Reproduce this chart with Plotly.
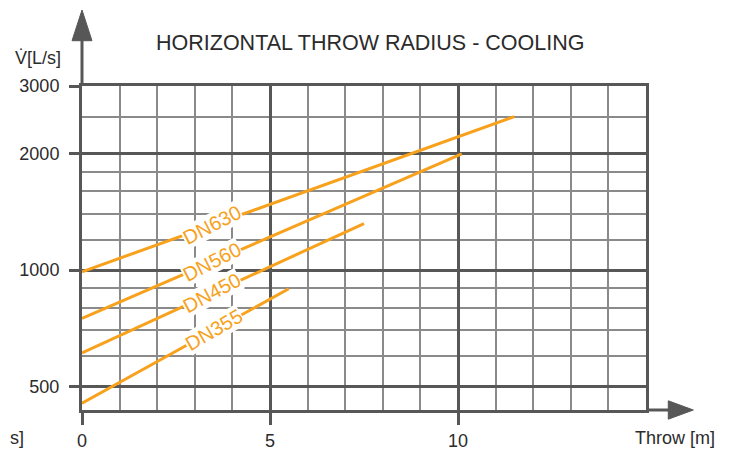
import math
import plotly.graph_objects as go

# ---- data ----
series_names = ["DN630", "DN560", "DN450", "DN355"]
throw_start = [0, 0, 0, 0]
throw_end = [11.5, 10.1, 7.5, 5.5]
flow_start = [990, 750, 610, 452]
flow_end = [2500, 2000, 1320, 895]
label_throw = [3.45, 3.45, 3.45, 3.5]
label_angles = [-27, -27, -28, -30]

x_major = [0, 5, 10]
x_minor = list(range(1, 15))
y_major = [500, 1000, 2000, 3000]
y_major_text = ["500", "1000", "2000", "3000"]
y_minor = [600, 700, 800, 900, 1200, 1400, 1600, 1800, 2500]

ORANGE = "#F7A11C"
DARK = "#575757"
MINOR = "#8a8a8a"
TEXT = "#2b2b2b"
FONT = "Liberation Sans, Arial, sans-serif"

fig = go.Figure()
for i, name in enumerate(series_names):
    fig.add_trace(go.Scatter(
        x=[throw_start[i], throw_end[i]], y=[flow_start[i], flow_end[i]],
        mode="lines", line=dict(color=ORANGE, width=3), name=name,
        showlegend=False, hoverinfo="skip"))
    # label position on the line (log interpolation)
    f = (label_throw[i] - throw_start[i]) / (throw_end[i] - throw_start[i])
    ly = flow_start[i] * (flow_end[i] / flow_start[i]) ** f
    fig.add_annotation(x=label_throw[i], y=math.log10(ly), text=name,
                       showarrow=False, textangle=label_angles[i],
                       font=dict(color=ORANGE, size=20, family=FONT),
                       bgcolor="white", borderpad=0)

fig.update_layout(
    width=727, height=442,
    margin=dict(l=74, r=89, t=78, b=40),
    paper_bgcolor="white", plot_bgcolor="white",
    font=dict(family=FONT, color=TEXT, size=18),
    xaxis=dict(range=[0, 15], tickvals=x_major, ticktext=[str(v) for v in x_major],
               showgrid=True, gridcolor=DARK, gridwidth=3, automargin=False,
               minor=dict(tickvals=x_minor, showgrid=True, gridcolor=MINOR, gridwidth=1.5, ticks=""),
               showline=True, mirror=True, linecolor=DARK, linewidth=3,
               ticks="outside", ticklen=12, tickwidth=3, tickcolor=DARK,
               tickfont=dict(size=18, color=TEXT), zeroline=False, fixedrange=True),
    yaxis=dict(type="log", range=[math.log10(434), math.log10(3000)],
               tickvals=y_major, ticktext=y_major_text, automargin=False,
               showgrid=True, gridcolor=DARK, gridwidth=3,
               minor=dict(tickvals=y_minor, showgrid=True, gridcolor=MINOR, gridwidth=1.5, ticks=""),
               showline=True, mirror=True, linecolor=DARK, linewidth=3,
               ticks="outside", ticklen=10, tickwidth=3, tickcolor=DARK,
               ticklabelstandoff=6,
               tickfont=dict(size=18, color=TEXT), zeroline=False, fixedrange=True),
)

# axis extensions and arrows
fig.add_shape(type="line", xref="paper", yref="paper", x0=0, x1=0, y0=1, y1=1.15,
              line=dict(color=DARK, width=3))
fig.add_shape(type="path", xref="paper", yref="paper",
              path="M -0.0177 1.1398 L 0.0177 1.1398 L 0 1.2346 Z",
              fillcolor=DARK, line=dict(color=DARK, width=1))
fig.add_shape(type="line", xref="paper", yref="paper", x0=1, x1=1.045, y0=0, y1=0,
              line=dict(color=DARK, width=3))
fig.add_shape(type="path", xref="paper", yref="paper",
              path="M 1.0395 0.0284 L 1.0395 -0.0284 L 1.0839 0 Z",
              fillcolor=DARK, line=dict(color=DARK, width=1))

# texts
fig.add_annotation(xref="paper", yref="paper", x=0.5106, y=1.1327, text="HORIZONTAL THROW RADIUS - COOLING",
                   showarrow=False, font=dict(size=21.5, color=TEXT, family=FONT), xanchor="center", yanchor="middle")
fig.add_annotation(xref="paper", yref="paper", x=-0.0337, y=1.085, text="V̇[L/s]",
                   showarrow=False, font=dict(size=18, color=TEXT, family=FONT), xanchor="right", yanchor="middle")
fig.add_annotation(xref="paper", yref="paper", x=1.126, y=-0.086, text="Throw [m]",
                   showarrow=False, font=dict(size=18, color=TEXT, family=FONT), xanchor="right", yanchor="middle")
fig.add_annotation(xref="paper", yref="paper", x=-0.1312, y=-0.086, text="s]",
                   showarrow=False, font=dict(size=18, color=TEXT, family=FONT), xanchor="left", yanchor="middle")

fig.write_html("out.html")
